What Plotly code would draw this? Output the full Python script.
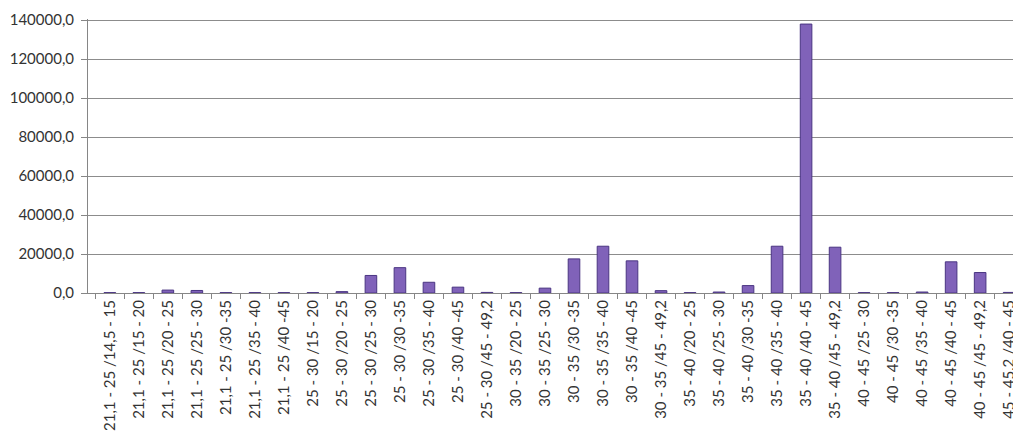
import plotly.graph_objects as go

categories = [
    "21,1 - 25 /14,5 - 15", "21,1 - 25 /15 - 20", "21,1 - 25 /20 - 25",
    "21,1 - 25 /25 - 30", "21,1 - 25 /30 -35", "21,1 - 25 /35 - 40",
    "21,1 - 25 /40 -45", "25 - 30 /15 - 20", "25 - 30 /20 - 25",
    "25 - 30 /25 - 30", "25 - 30 /30 -35", "25 - 30 /35 - 40",
    "25 - 30 /40 -45", "25 - 30 /45 - 49,2", "30 - 35 /20 - 25",
    "30 - 35 /25 - 30", "30 - 35 /30 -35", "30 - 35 /35 - 40",
    "30 - 35 /40 -45", "30 - 35 /45 - 49,2", "35 - 40 /20 - 25",
    "35 - 40 /25 - 30", "35 - 40 /30 -35", "35 - 40 /35 - 40",
    "35 - 40 /40 - 45", "35 - 40 /45 - 49,2", "40 - 45 /25 - 30",
    "40 - 45 /30 -35", "40 - 45 /35 - 40", "40 - 45 /40 - 45",
    "40 - 45 /45 - 49,2", "45 - 45,2 /40 - 45",
]

values = [
    200, 200, 1500, 1300, 200, 200, 200, 200, 700,
    9000, 13000, 5500, 3000, 300, 200,
    2500, 17500, 24000, 16500, 1200, 200,
    500, 3800, 24000, 138000, 23500, 200,
    200, 500, 16000, 10500, 300,
]

y_ticks = [0, 20000, 40000, 60000, 80000, 100000, 120000, 140000]

fig = go.Figure(
    data=[go.Bar(x=categories, y=values,
                 marker=dict(color="#8062B9",
                             line=dict(color="#4A3582", width=1)))],
    layout=go.Layout(
        width=1013, height=434,
        margin=dict(l=74, r=2, t=8, b=149),
        plot_bgcolor="white", paper_bgcolor="white",
        bargap=0.6,
        separators=",.",
        showlegend=False,
        font=dict(family="Lato, Open Sans, sans-serif", color="#333333"),
        xaxis=dict(
            range=[-0.753, 31.34],
            tickangle=-90,
            tickfont=dict(size=15),
            ticks="outside", tickson="boundaries", ticklen=5,
            tickcolor="#868686",
            showline=True, linecolor="#868686",
            showgrid=False,
            ticklabeloverflow="allow",
        ),
        yaxis=dict(
            range=[0, 140600],
            tickvals=y_ticks,
            tickformat=".1f",
            tickfont=dict(size=15),
            ticks="outside", ticklen=6, tickcolor="#868686",
            ticklabelstandoff=4,
            ticklabeloverflow="allow",
            showline=True, linecolor="#868686",
            showgrid=True, gridcolor="#8c8c8c", gridwidth=1,
            zeroline=False,
        ),
    ),
)

fig.write_html("out.html")
